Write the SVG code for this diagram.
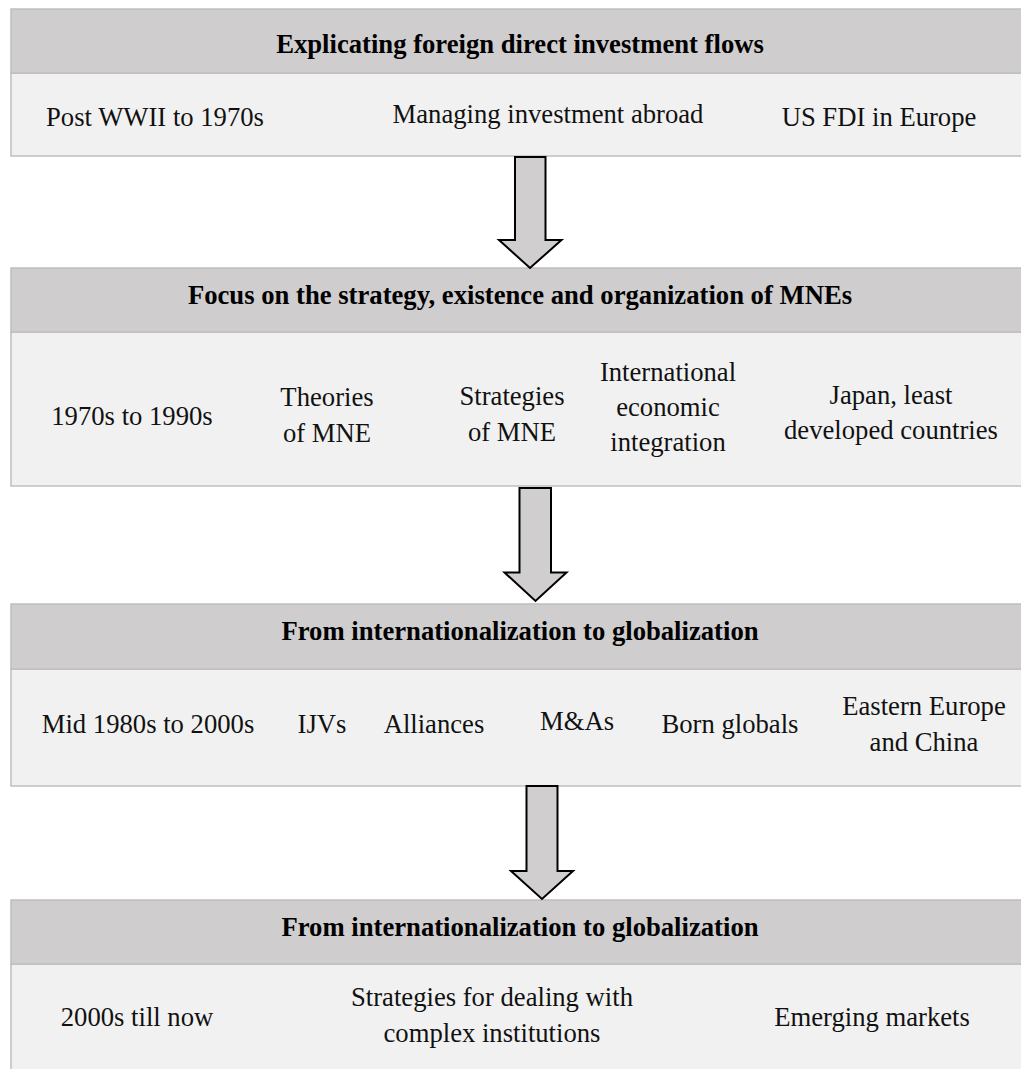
<svg xmlns="http://www.w3.org/2000/svg" width="1021" height="1069" viewBox="0 0 1021 1069">
<style>
.hdr{fill:#cfcdce;stroke:#bfbfbf;stroke-width:1.5}
.bdy{fill:#f1f1f1;stroke:#bfbfbf;stroke-width:1.5}
text{font-family:"Liberation Serif","Times New Roman",serif;font-size:26.67px;fill:#111;text-anchor:middle}
.t{font-weight:bold;fill:#000}
.arr{fill:#d0cecf;stroke:#000;stroke-width:2;stroke-linejoin:miter}
</style>
<rect width="1021" height="1069" fill="#fff"/>
<g id="box1">
<rect class="bdy" x="11" y="73" width="1030" height="83"/>
<rect class="hdr" x="11" y="9" width="1030" height="64"/>
<text class="t" x="520" y="53">Explicating foreign direct investment flows</text>
<text x="155" y="126">Post WWII to 1970s</text>
<text x="548" y="123">Managing investment abroad</text>
<text x="879" y="126">US FDI in Europe</text>
</g>
<g id="box2">
<rect class="bdy" x="11" y="332" width="1030" height="154"/>
<rect class="hdr" x="11" y="268" width="1030" height="64"/>
<text class="t" x="520" y="304">Focus on the strategy, existence and organization of MNEs</text>
<text x="132" y="425">1970s to 1990s</text>
<text x="327" y="406">Theories</text>
<text x="327" y="442">of MNE</text>
<text x="512" y="405">Strategies</text>
<text x="512" y="441">of MNE</text>
<text x="668" y="381">International</text>
<text x="668" y="416">economic</text>
<text x="668" y="451">integration</text>
<text x="891" y="404">Japan, least</text>
<text x="891" y="439">developed countries</text>
</g>
<g id="box3">
<rect class="bdy" x="11" y="669" width="1030" height="117"/>
<rect class="hdr" x="11" y="604" width="1030" height="65"/>
<text class="t" x="520" y="640">From internationalization to globalization</text>
<text x="148" y="733">Mid 1980s to 2000s</text>
<text x="322" y="733">IJVs</text>
<text x="434" y="733">Alliances</text>
<text x="577" y="730">M&amp;As</text>
<text x="730" y="733">Born globals</text>
<text x="924" y="715">Eastern Europe</text>
<text x="924" y="751">and China</text>
</g>
<g id="box4">
<rect class="bdy" x="11" y="964" width="1030" height="120"/>
<rect class="hdr" x="11" y="900" width="1030" height="64"/>
<text class="t" x="520" y="936">From internationalization to globalization</text>
<text x="137" y="1026">2000s till now</text>
<text x="492" y="1006">Strategies for dealing with</text>
<text x="492" y="1042">complex institutions</text>
<text x="872" y="1026">Emerging markets</text>
</g>
<g id="connectors">
<path class="arr" d="M515,157 H545.5 V240 H561.5 L530,268 L499,240 H515 Z"/>
<path class="arr" d="M519.5,488 H551 V572.5 H566.5 L535.5,601 L504.5,572.5 H519.5 Z"/>
<path class="arr" d="M526.5,786 H557.5 V871 H573 L542,899 L511,871 H526.5 Z"/>
</g>
</svg>
